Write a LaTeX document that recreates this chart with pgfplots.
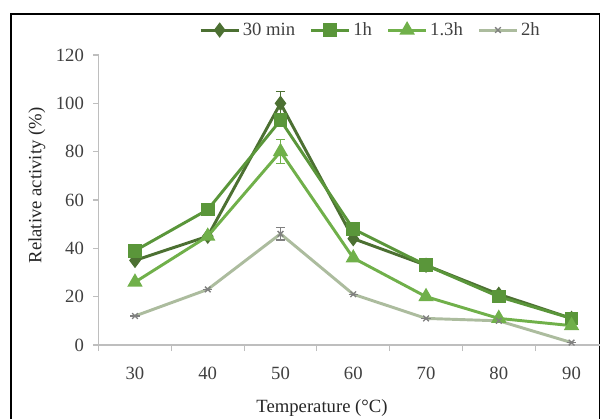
\documentclass[border=0pt]{standalone}
\usepackage{fontspec}
\setmainfont{Liberation Serif}
\usepackage{pgfplots}
\pgfplotsset{compat=1.18}
\definecolor{cA}{RGB}{76,112,50}
\definecolor{cB}{RGB}{90,150,58}
\definecolor{cC}{RGB}{112,176,74}
\definecolor{cD}{RGB}{172,188,158}
\definecolor{axgray}{RGB}{190,190,190}
\newcommand{\f}{\fontsize{14}{16}\selectfont}
\pgfplotstableread{
x y e
30 35 0
40 45 0
50 100 5
60 44 0
70 33 0
80 21 0
90 11 0
}\tA
\pgfplotstableread{
x y e
30 39 0
40 56 0
50 93 0
60 48 0
70 33 0
80 20 0
90 11 0
}\tB
\pgfplotstableread{
x y e
30 26 0
40 45 0
50 80 5
60 36 0
70 20 0
80 11 0
90 8 0
}\tC
\pgfplotstableread{
x y e
30 12 0
40 23 0
50 46 2.5
60 21 0
70 11 0
80 10 0
90 1 0
}\tD
\begin{document}
\begin{tikzpicture}[x=0.75pt,y=0.75pt]
\useasboundingbox (0,0) rectangle (601,419);
\draw[line width=1pt] (11,0) -- (11,405) -- (599.5,405) -- (599.5,0);
\begin{axis}[
  at={(73.95pt,55.5pt)}, anchor=south west,
  scale only axis, width=376pt, height=217.5pt,
  xmin=25, xmax=93.9, ymin=0, ymax=120,
  axis x line*=bottom, axis y line*=left,
  axis line style={axgray, line width=0.8pt},
  xtick={30,40,...,90}, minor xtick={25,35,...,85},
  ytick={0,20,...,120},
  tick align=outside,
  major x tick style={draw=none},
  minor x tick style={axgray, line width=0.8pt},
  ytick style={axgray, line width=0.8pt},
  major tick length=4pt, minor tick length=4.5pt,
  /pgf/number format/assume math mode=true,
  tick label style={font=\f, text=black!75},
  xticklabel style={yshift=-9pt},
  yticklabel style={xshift=-3.5pt},
  label style={font=\f, text=black!85},
  xlabel={Temperature (°C)},
  ylabel={Relative activity (\%)},
  xlabel style={at={(axis description cs:0.4456,-0.217)}, anchor=center},
  ylabel style={at={(axis description cs:-0.123,0.55)}, anchor=center, rotate=0},
  legend columns=4,
  legend style={at={(axis description cs:0.543,1.086)}, anchor=center, draw=none, fill=none, font=\f, text=black!75,
    /tikz/every even column/.append style={column sep=9pt}},
  legend image code/.code={\draw[mark repeat=2,mark phase=2] plot coordinates {(0cm,0cm)(0.5cm,0cm)(1cm,0cm)};},
  every axis plot/.append style={line width=2.2pt},
  error bars/y dir=both, error bars/y explicit,
]
\addplot[cA, mark=diamond*, mark size=4pt, mark options={solid},
  error bars/error bar style={line width=1pt, cA}, error bars/error mark options={rotate=90, mark size=3.5pt, line width=1pt}]
  table[x=x, y=y, y error=e] {\tA};
\addlegendentry{30 min}
\addplot[cB, mark=square*, mark size=4pt, mark options={solid},
  error bars/error bar style={line width=1pt, cB}, error bars/error mark options={rotate=90, mark size=3.5pt, line width=1pt}]
  table[x=x, y=y, y error=e] {\tB};
\addlegendentry{1h}
\addplot[cC, mark=triangle*, mark size=4.5pt, mark options={solid},
  error bars/error bar style={line width=1pt, cC}, error bars/error mark options={rotate=90, mark size=3.5pt, line width=1pt}]
  table[x=x, y=y, y error=e] {\tC};
\addlegendentry{1.3h}
\addplot[cD, mark=x, mark size=3pt, mark options={solid, line width=1pt, black!50},
  error bars/error bar style={line width=1pt, black!50}, error bars/error mark options={rotate=90, mark size=3.5pt, line width=1pt}]
  table[x=x, y=y, y error=e] {\tD};
\addlegendentry{2h}
\end{axis}
\end{tikzpicture}
\end{document}
